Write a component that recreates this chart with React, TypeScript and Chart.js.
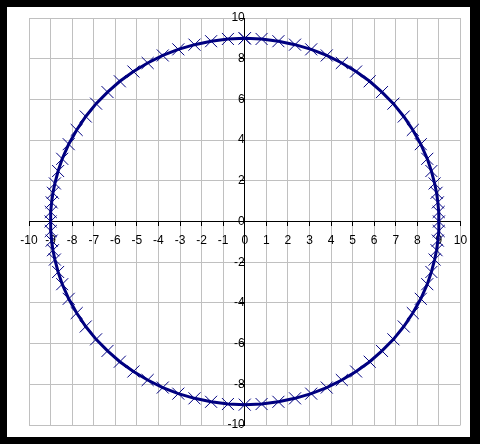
import { useEffect, useRef } from "react";
import { Chart, registerables } from "chart.js";

Chart.register(...registerables);

// Circle points (radius about 9), going clockwise from the top
const xValues = [
  0, 0.78, 1.56, 2.33, 3.08, 3.8, 4.5, 5.16, 5.79, 6.36, 6.89, 7.37, 7.79, 8.16, 8.46, 8.65, 8.8, 8.89, 8.95, 8.99, 9,
  8.99, 8.95, 8.89, 8.8, 8.65, 8.46, 8.16, 7.79, 7.37, 6.89, 6.36, 5.79, 5.16, 4.5, 3.8, 3.08, 2.33, 1.56, 0.78, 0,
  -0.78, -1.56, -2.33, -3.08, -3.8, -4.5, -5.16, -5.79, -6.36, -6.89, -7.37, -7.79, -8.16, -8.46, -8.65, -8.8, -8.89, -8.95, -8.99, -9,
  -8.99, -8.95, -8.89, -8.8, -8.65, -8.46, -8.16, -7.79, -7.37, -6.89, -6.36, -5.79, -5.16, -4.5, -3.8, -3.08, -2.33, -1.56, -0.78, 0,
];
const yValues = [
  9, 8.97, 8.86, 8.69, 8.46, 8.16, 7.79, 7.37, 6.89, 6.36, 5.79, 5.16, 4.5, 3.8, 3.08, 2.48, 1.87, 1.41, 0.94, 0.47, 0,
  -0.47, -0.94, -1.41, -1.87, -2.48, -3.08, -3.8, -4.5, -5.16, -5.79, -6.36, -6.89, -7.37, -7.79, -8.16, -8.46, -8.69, -8.86, -8.97, -9,
  -8.97, -8.86, -8.69, -8.46, -8.16, -7.79, -7.37, -6.89, -6.36, -5.79, -5.16, -4.5, -3.8, -3.08, -2.48, -1.87, -1.41, -0.94, -0.47, 0,
  0.47, 0.94, 1.41, 1.87, 2.48, 3.08, 3.8, 4.5, 5.16, 5.79, 6.36, 6.89, 7.37, 7.79, 8.16, 8.46, 8.69, 8.86, 8.97, 9,
];

const xAxisRange = [-10, 10];
const xAxisStep = 1;
const yAxisRange = [-10, 10];
const yAxisStep = 2;

export default function App() {
  const ref = useRef<HTMLCanvasElement>(null);

  useEffect(() => {
    if (!ref.current) return;
    const gridColor = (ctx: any) =>
      ctx.tick && ctx.tick.value === 0 ? "rgba(0,0,0,0)" : "#c0c0c0";
    const font = { family: "'Liberation Sans', Arial, sans-serif", size: 12 };
    const noPadding = (scale: any) => {
      scale.paddingTop = 0;
      scale.paddingBottom = 0;
      scale.paddingLeft = 0;
      scale.paddingRight = 0;
    };
    const chart = new Chart(ref.current, {
      type: "scatter",
      data: {
        datasets: [
          {
            data: xValues.map((x, i) => ({ x, y: yValues[i] })),
            showLine: true,
            borderColor: "#000080",
            borderWidth: 3,
            tension: 0,
            pointStyle: "crossRot",
            pointRadius: 8.5,
            pointBorderWidth: 1,
            pointBorderColor: "#000080",
            pointBackgroundColor: "#000080",
          } as any,
        ],
      },
      options: {
        responsive: false,
        maintainAspectRatio: false,
        animation: false,
        events: [],
        layout: { padding: { left: 22, right: 9, top: 11, bottom: 12 } },
        plugins: {
          legend: { display: false },
          tooltip: { enabled: false },
          title: { display: false },
        },
        scales: {
          x: {
            type: "linear",
            position: { y: 0 } as any,
            min: xAxisRange[0],
            max: xAxisRange[1],
            afterFit: noPadding,
            grid: { color: gridColor, tickColor: "#000", tickLength: 4, lineWidth: 1 },
            border: { display: true, color: "#000", width: 1 },
            ticks: { stepSize: xAxisStep, color: "#000", font, padding: 8, maxRotation: 0, autoSkip: false },
          },
          y: {
            type: "linear",
            position: { x: 0 } as any,
            min: yAxisRange[0],
            max: yAxisRange[1],
            afterFit: noPadding,
            grid: { color: gridColor, tickColor: "#000", tickLength: 4, lineWidth: 1 },
            border: { display: true, color: "#000", width: 1 },
            ticks: { stepSize: yAxisStep, color: "#000", font, padding: 6, autoSkip: false },
          },
        },
      },
    });
    return () => chart.destroy();
  }, []);

  return (
    <div
      style={{
        position: "absolute",
        left: 0,
        top: 0,
        width: 480,
        height: 444,
        background: "#000",
      }}
    >
      <canvas
        ref={ref}
        width={463}
        height={430}
        style={{
          position: "absolute",
          left: 7,
          top: 7,
          width: 463,
          height: 430,
          background: "#fff",
          display: "block",
        }}
      />
    </div>
  );
}
